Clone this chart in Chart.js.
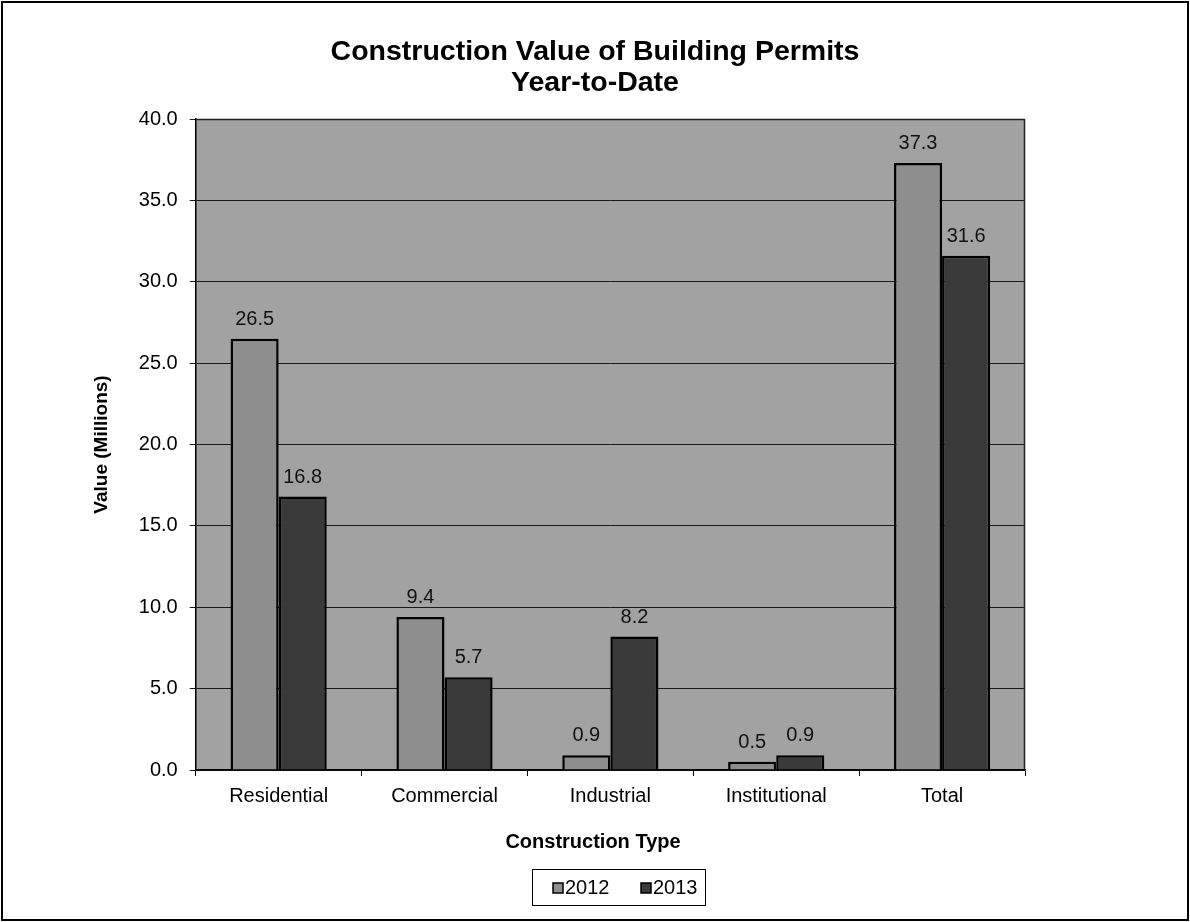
<!DOCTYPE html>
<html>
<head>
<meta charset="utf-8">
<script src="https://cdn.jsdelivr.net/npm/chart.js@4.4.1/dist/chart.umd.min.js"></script>
<style>
  html, body { margin: 0; padding: 0; background: #fff; }
  #wrap { width: 1190px; height: 922px; }
</style>
</head>
<body>
<div id="wrap"><canvas id="permitChart" width="1190" height="922"></canvas></div>
<script>
const categories = ['Residential', 'Commercial', 'Industrial', 'Institutional', 'Total'];
const values2012 = [26.5, 9.4, 0.9, 0.5, 37.3];
const values2013 = [16.8, 5.7, 8.2, 0.9, 31.6];
const seriesLabels = ['2012', '2013'];
const seriesColors = ['#8e8e8e', '#3a3a3a'];
const titleLines = ['Construction Value of Building Permits', 'Year-to-Date'];
const xTitle = 'Construction Type';

const FONT = '"Liberation Sans", Arial, sans-serif';

// gray plot area, frame, titles and legend box
const decorations = {
    id: 'decorations',
    beforeDraw(chart) {
        const { ctx, chartArea: a } = chart;
        ctx.save();
        ctx.fillStyle = '#a2a2a2';
        ctx.fillRect(a.left, a.top, a.right - a.left, a.bottom - a.top);
        ctx.restore();
    },
    afterDraw(chart) {
        const { ctx, chartArea: a } = chart;
        const cx = chart.width / 2;
        ctx.save();
        // plot frame top + right
        ctx.strokeStyle = '#222';
        ctx.lineWidth = 1.5;
        ctx.beginPath();
        ctx.moveTo(a.left, a.top + 0.5);
        ctx.lineTo(a.right - 0.5, a.top + 0.5);
        ctx.lineTo(a.right - 0.5, a.bottom);
        ctx.stroke();

        // outer border
        ctx.strokeStyle = '#000';
        ctx.lineWidth = 2;
        ctx.strokeRect(2, 2, chart.width - 4, chart.height - 4);

        // main title
        ctx.fillStyle = '#000';
        ctx.textAlign = 'center';
        ctx.textBaseline = 'middle';
        ctx.font = 'bold 28.5px ' + FONT;
        ctx.fillText(titleLines[0], cx, 52);
        ctx.fillText(titleLines[1], cx, 83);

        // x axis title
        ctx.font = 'bold 20px ' + FONT;
        ctx.fillText(xTitle, cx - 2, 842);

        // legend
        const lx0 = 532, lx1 = 705, ly0 = 869, ly1 = 905;
        ctx.strokeStyle = '#000';
        ctx.lineWidth = 1;
        ctx.strokeRect(lx0 + 0.5, ly0 + 0.5, lx1 - lx0, ly1 - ly0);
        ctx.font = '20px ' + FONT;
        ctx.textAlign = 'left';
        const midY = (ly0 + ly1) / 2 + 1;
        const itemX = [553, 641];
        seriesLabels.forEach((lab, i) => {
            ctx.fillStyle = seriesColors[i];
            ctx.fillRect(itemX[i], midY - 5, 10, 10);
            ctx.strokeStyle = '#000';
            ctx.lineWidth = 1.5;
            ctx.strokeRect(itemX[i], midY - 5, 10, 10);
            ctx.fillStyle = '#000';
            ctx.fillText(lab, itemX[i] + 12, midY);
        });
        ctx.restore();
    }
};

// value labels above each bar
const barValues = {
    id: 'barValues',
    afterDatasetsDraw(chart) {
        const { ctx } = chart;
        ctx.save();
        ctx.font = '20px ' + FONT;
        ctx.fillStyle = '#111';
        ctx.textAlign = 'center';
        ctx.textBaseline = 'alphabetic';
        chart.data.datasets.forEach((ds, i) => {
            chart.getDatasetMeta(i).data.forEach((bar, j) => {
                ctx.fillText(ds.data[j].toFixed(1), bar.x, bar.y - 14);
            });
        });
        ctx.restore();
    }
};

const ctx = document.getElementById('permitChart').getContext('2d');
new Chart(ctx, {
    type: 'bar',
    data: {
        labels: categories,
        datasets: [
            {
                label: seriesLabels[0],
                data: values2012,
                backgroundColor: seriesColors[0],
                borderColor: '#000',
                borderWidth: 2.5,
                borderSkipped: 'bottom'
            },
            {
                label: seriesLabels[1],
                data: values2013,
                backgroundColor: seriesColors[1],
                borderColor: '#000',
                borderWidth: 2.5,
                borderSkipped: 'bottom'
            }
        ]
    },
    options: {
        responsive: false,
        animation: false,
        devicePixelRatio: 1,
        layout: { padding: { top: 119, left: 90, right: 165, bottom: 106 } },
        datasets: { bar: { categoryPercentage: 0.58, barPercentage: 1.0 } },
        scales: {
            x: {
                grid: { drawOnChartArea: false, drawTicks: true, tickLength: 6, offset: true, color: '#000' },
                border: { color: '#000', width: 1.5 },
                ticks: { color: '#000', font: { family: FONT, size: 20 }, padding: 8 }
            },
            y: {
                min: 0,
                max: 40,
                ticks: {
                    stepSize: 5, color: '#000', font: { family: FONT, size: 20 }, padding: 12,
                    callback: (v) => v.toFixed(1)
                },
                grid: { color: '#1a1a1a', lineWidth: 1, tickLength: 6 },
                border: { color: '#000', width: 1.5 },
                title: {
                    display: true, text: 'Value (Millions)', color: '#000',
                    font: { family: FONT, size: 19, weight: 'bold' }, padding: { top: 0, bottom: 14 }
                }
            }
        },
        plugins: {
            title: { display: false },
            legend: { display: false },
            tooltip: { enabled: false }
        }
    },
    plugins: [decorations, barValues]
});
</script>
</body>
</html>
